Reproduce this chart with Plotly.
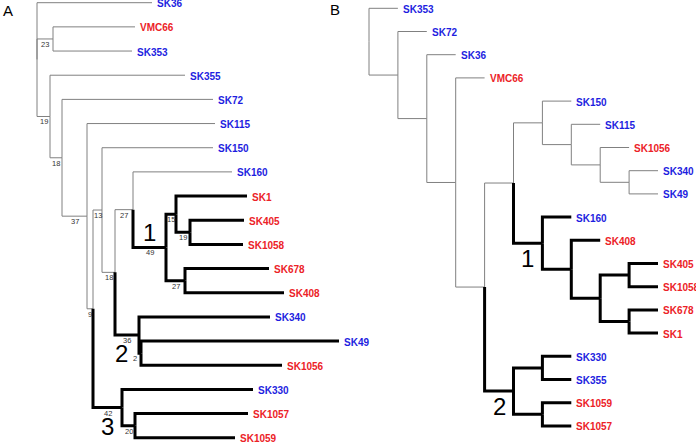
import plotly.graph_objects as go

# ---------------- Panel A (phylogram with support values) ----------------
A_leaves = ["SK36", "VMC66", "SK353", "SK355", "SK72", "SK115", "SK150", "SK160",
            "SK1", "SK405", "SK1058", "SK678", "SK408", "SK340", "SK49", "SK1056",
            "SK330", "SK1057", "SK1059"]
A_leaf_group = ["b", "r", "b", "b", "b", "b", "b", "b", "r", "r", "r", "r", "r",
                "b", "b", "r", "b", "r", "r"]
A_leaf_parent = ["root", "n23", "n23", "n19", "n18a", "n37", "n13", "n27",
                 "n15", "n19b", "n19b", "n27b", "n27b", "n36", "n2", "n2",
                 "n42", "n20", "n20"]
A_leaf_depth = [115, 98, 95, 148, 176, 178, 176, 195, 210, 207, 206, 232, 247,
                233, 302, 245, 216, 211, 198]

A_nodes = ["root", "n23", "n19", "n18a", "n37", "n9", "n13", "n18b", "n27", "n49",
           "n15", "n19b", "n27b", "n36", "n2", "n42", "n20"]
A_node_parent = [None, "root", "root", "n19", "n18a", "n37", "n9", "n13", "n18b",
                 "n27", "n49", "n15", "n49", "n18b", "n36", "n9", "n42"]
A_node_depth = [0, 16, 13, 25, 50, 56, 65, 78, 96, 129, 139, 153, 148, 102, 104, 85, 98]
A_support = [None, 23, 19, 18, 37, 9, 13, 18, 27, 49, 15, 19, 27, 36, 2, 42, 20]

A_clusters = ["n49", "n36", "n42"]
A_cluster_labels = ["1", "2", "3"]

# ---------------- Panel B (cladogram) ----------------
B_leaves = ["SK353", "SK72", "SK36", "VMC66", "SK150", "SK115", "SK1056", "SK340",
            "SK49", "SK160", "SK408", "SK405", "SK1058", "SK678", "SK1", "SK330",
            "SK355", "SK1059", "SK1057"]
B_leaf_group = ["b", "b", "b", "r", "b", "b", "r", "b", "b", "b", "r", "r", "r",
                "r", "r", "b", "b", "r", "r"]
B_leaf_parent = ["root", "N1", "N2", "N3", "N6", "N7", "N8", "N9", "N9", "C1",
                 "Na", "Nc", "Nc", "Nd", "Nd", "Ne", "Ne", "Nf", "Nf"]
B_leaf_depth = [1, 2, 3, 4, 7, 8, 9, 10, 10, 7, 8, 10, 10, 10, 10, 7, 7, 7, 7]

B_nodes = ["root", "N1", "N2", "N3", "N4", "N5", "N6", "N7", "N8", "N9",
           "C1", "Na", "Nb", "Nc", "Nd", "C2", "Ne", "Nf"]
B_node_parent = [None, "root", "N1", "N2", "N3", "N4", "N5", "N6", "N7", "N8",
                 "N5", "C1", "Na", "Nb", "Nb", "N4", "C2", "C2"]
B_node_depth = [0, 1, 2, 3, 4, 5, 6, 7, 8, 9, 6, 7, 8, 9, 9, 5, 6, 6]

B_clusters = ["C1", "C2"]
B_cluster_labels = ["1", "2"]

# ---------------- styles ----------------
BLUE = "#1e1ee0"
RED = "#ec2227"
THIN = "#808080"
FONT = "Arial, Liberation Sans, sans-serif"
W, H = 696, 442
SPLIT = 330


def build(leaves, leaf_parent, leaf_depth, nodes, node_parent, node_depth, clusters):
    names = list(leaves) + list(nodes)
    parent = dict(zip(leaves, leaf_parent))
    parent.update(dict(zip(nodes, node_parent)))
    depth = dict(zip(leaves, leaf_depth))
    depth.update(dict(zip(nodes, node_depth)))
    children = {n: [] for n in names}
    for n in names:
        if parent[n] is not None:
            children[parent[n]].append(n)
    y = {lf: i for i, lf in enumerate(leaves)}

    def gety(n):
        if n in y:
            return y[n]
        ys = [gety(c) for c in children[n]]
        y[n] = (min(ys) + max(ys)) / 2
        return y[n]

    for n in nodes:
        gety(n)
    thick = set()

    def mark(n):
        thick.add(n)
        for c in children[n]:
            mark(c)

    for c in clusters:
        mark(c)
    segs = {"thin": ([], []), "thick": ([], [])}
    for n in names:
        p = parent[n]
        if p is None:
            continue
        xs, ys = segs["thick" if n in thick else "thin"]
        xs += [depth[p], depth[p], depth[n], None]
        ys += [y[p], y[n], y[n], None]
    return depth, y, parent, segs


fig = go.Figure()
annotations = []


def add_panel(xa, ya, leaves, groups, leaf_parent, leaf_depth, nodes, node_parent,
              node_depth, clusters, cl_labels, cl_place, support=None):
    depth, y, parent, segs = build(leaves, leaf_parent, leaf_depth, nodes,
                                   node_parent, node_depth, clusters)
    for key, col, wd in [("thin", THIN, 1), ("thick", "black", 3)]:
        xs, ys = segs[key]
        fig.add_trace(go.Scatter(x=xs, y=ys, mode="lines", xaxis=xa, yaxis=ya,
                                 line=dict(color=col, width=wd, shape="linear"),
                                 hoverinfo="skip", showlegend=False))
    xref = "x" if xa == "x" else xa
    yref = "y" if ya == "y" else ya
    for lf, g in zip(leaves, groups):
        annotations.append(dict(x=depth[lf], y=y[lf], xref=xref, yref=yref,
                                text="<b>%s</b>" % lf, showarrow=False,
                                xanchor="left", yanchor="middle", xshift=3, yshift=-1,
                                font=dict(family=FONT, size=10,
                                          color=BLUE if g == "b" else RED)))
    if support is not None:
        for n, s in zip(nodes, support):
            if s is None:
                continue
            p = parent[n]
            if depth[n] - depth[p] < 4:
                annotations.append(dict(x=depth[p], y=y[n], xref=xref, yref=yref,
                                        text=str(s), showarrow=False, xanchor="right",
                                        yanchor="top", xshift=-1, borderpad=0,
                                        font=dict(family=FONT, size=7.5, color="#333")))
            else:
                annotations.append(dict(x=(depth[n] + depth[p]) / 2, y=y[n],
                                        xref=xref, yref=yref, text=str(s),
                                        showarrow=False, xanchor="center",
                                        yanchor="top", borderpad=0,
                                        font=dict(family=FONT, size=7.5, color="#333")))
    for n, lab, (pos, dx, dy) in zip(clusters, cl_labels, cl_place):
        p = parent[n]
        annotations.append(dict(x=(depth[n] + depth[p]) / 2, y=y[n], xref=xref,
                                yref=yref, text=lab, showarrow=False,
                                xanchor="center",
                                yanchor="bottom" if pos == "above" else "top",
                                xshift=dx, yshift=dy, borderpad=0,
                                font=dict(family=FONT, size=24, color="black")))


add_panel("x", "y", A_leaves, A_leaf_group, A_leaf_parent, A_leaf_depth, A_nodes,
          A_node_parent, A_node_depth, A_clusters, A_cluster_labels,
          [("above", 0, 0), ("below", -6, -4), ("below", 0, -4)], support=A_support)
add_panel("x2", "y2", B_leaves, B_leaf_group, B_leaf_parent, B_leaf_depth, B_nodes,
          B_node_parent, B_node_depth, B_clusters, B_cluster_labels,
          [("below", 0, -1), ("below", 0, -1)])

annotations.append(dict(x=2 / W, y=1 - 1 / H, xref="paper", yref="paper", text="A",
                        showarrow=False, xanchor="left", yanchor="top", borderpad=0,
                        font=dict(family=FONT, size=15, color="black")))
annotations.append(dict(x=329 / W, y=1, xref="paper", yref="paper", text="B",
                        showarrow=False, xanchor="left", yanchor="top", borderpad=0,
                        font=dict(family=FONT, size=15, color="black")))

A_root_px, A_leaf_px0, A_leaf_step = 37, 2.7, 24.17
B_root_px, B_leaf_px0, B_leaf_step, B_step_px = 369, 8.3, 23.2, 28.9

ax = dict(visible=False, showgrid=False, zeroline=False, fixedrange=True)
fig.update_layout(
    width=W, height=H, margin=dict(l=0, r=0, t=0, b=0, pad=0),
    paper_bgcolor="white", plot_bgcolor="rgba(0,0,0,0)", showlegend=False,
    xaxis=dict(ax, domain=[0, 1], range=[-A_root_px, W - A_root_px]),
    yaxis=dict(ax, domain=[0, 1],
               range=[(H - A_leaf_px0) / A_leaf_step, -A_leaf_px0 / A_leaf_step]),
    xaxis2=dict(ax, domain=[SPLIT / W, 1], anchor="y2",
                range=[-(B_root_px - SPLIT) / B_step_px,
                       (W - B_root_px) / B_step_px]),
    yaxis2=dict(ax, domain=[0, 1], anchor="x2",
                range=[(H - B_leaf_px0) / B_leaf_step, -B_leaf_px0 / B_leaf_step]),
    annotations=annotations,
)

fig.write_html("out.html",
               config={"displayModeBar": False, "staticPlot": True},
               post_script="document.body.style.margin='0';"
                           "document.body.style.padding='0';"
                           "document.body.style.overflow='hidden';")
